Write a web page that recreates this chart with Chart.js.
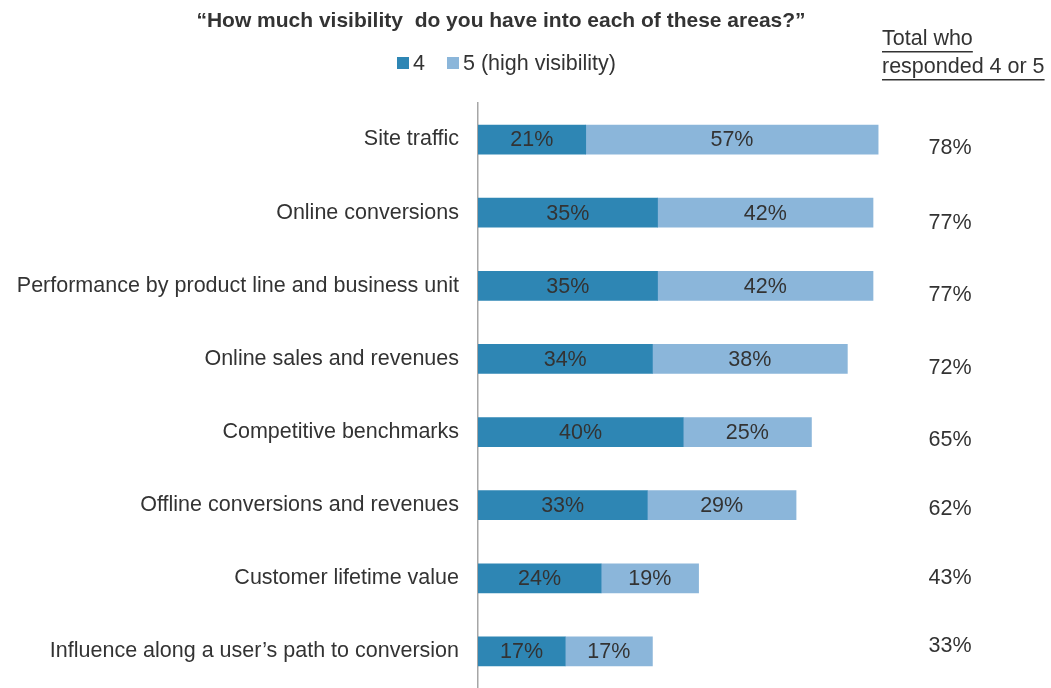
<!DOCTYPE html>
<html>
<head>
<meta charset="utf-8">
<script src="https://cdn.jsdelivr.net/npm/chart.js@4"></script>
<style>
  html, body { margin: 0; padding: 0; background: #fff; }
  #wrap { width: 1051px; height: 688px; position: relative; }
</style>
</head>
<body>
<div id="wrap"><canvas id="c" width="1051" height="688"></canvas></div>
<script>
// Survey areas and the share answering 4 or 5
const categories = [
  'Site traffic',
  'Online conversions',
  'Performance by product line and business unit',
  'Online sales and revenues',
  'Competitive benchmarks',
  'Offline conversions and revenues',
  'Customer lifetime value',
  'Influence along a user\u2019s path to conversion'
];
const score4 = [21, 35, 35, 34, 40, 33, 24, 17];
const score5 = [57, 42, 42, 38, 25, 29, 19, 17];
const totals = [78, 77, 77, 72, 65, 62, 43, 33];

const seriesNames = ['4', '5 (high visibility)'];
const titleText = '\u201cHow much visibility  do you have into each of these areas?\u201d';
const totalHeader = ['Total who', 'responded 4 or 5'];

const DARK = '#2e86b4';
const LIGHT = '#8bb6da';
const TEXT = '#333333';
const FONT = '"Liberation Sans", Arial, sans-serif';
const SIZE = 21.5;
// vertical nudge of each total relative to its bar row
const TOTAL_NUDGE = [9, 10, 9, 9, 8, 4, 0, -5];

// Percent labels inside each bar segment, totals column, title and legend
const annotate = {
  id: 'annotate',
  afterDatasetsDraw(chart) {
    const ctx = chart.ctx;
    ctx.save();
    ctx.fillStyle = TEXT;
    ctx.font = SIZE + 'px ' + FONT;
    ctx.textAlign = 'center';
    ctx.textBaseline = 'middle';
    chart.data.datasets.forEach((ds, di) => {
      chart.getDatasetMeta(di).data.forEach((bar, i) => {
        const x = (bar.base + bar.x) / 2;
        ctx.fillText(ds.data[i] + '%', x, bar.y + 1);
      });
    });

    // totals column
    const yScale = chart.scales.y;
    totals.forEach((t, i) => {
      const y = yScale.getPixelForValue(i) + TOTAL_NUDGE[i];
      ctx.fillText(t + '%', 950, y);
    });

    // header of totals column (underlined)
    ctx.textAlign = 'left';
    const hx = 882;
    const hy = [39, 67];
    totalHeader.forEach((line, k) => {
      ctx.fillText(line, hx, hy[k]);
      const w = ctx.measureText(line).width;
      ctx.fillRect(hx, hy[k] + 12, w, 1.5);
    });

    // title
    ctx.textAlign = 'center';
    ctx.font = 'bold 21px ' + FONT;
    ctx.fillText(titleText, 501, 21);

    // legend
    ctx.font = SIZE + 'px ' + FONT;
    ctx.textAlign = 'left';
    const colors = [DARK, LIGHT];
    const lx = [397, 447];
    seriesNames.forEach((name, k) => {
      ctx.fillStyle = colors[k];
      ctx.fillRect(lx[k], 57, 12, 12);
      ctx.fillStyle = TEXT;
      ctx.fillText(name, lx[k] + 16, 64);
    });
    ctx.restore();
  }
};

new Chart(document.getElementById('c'), {
  type: 'bar',
  data: {
    labels: categories,
    datasets: [
      { label: seriesNames[0], data: score4, backgroundColor: DARK, borderWidth: 0, barThickness: 29 },
      { label: seriesNames[1], data: score5, backgroundColor: LIGHT, borderWidth: 0, barThickness: 29 }
    ]
  },
  options: {
    indexAxis: 'y',
    responsive: false,
    animation: false,
    layout: { padding: { top: 103, right: 60, left: 0, bottom: 0 } },
    plugins: {
      legend: { display: false },
      title: { display: false },
      tooltip: { enabled: false }
    },
    scales: {
      x: {
        stacked: true,
        min: 0,
        max: 100,
        display: false
      },
      y: {
        stacked: true,
        grid: { display: false, drawTicks: false },
        border: { display: true, color: '#a6a6a6', width: 1.5 },
        ticks: {
          color: TEXT,
          padding: 19,
          font: { family: FONT, size: SIZE }
        },
        afterFit(scale) {
          scale.width = 478;
          scale.paddingTop = 0;
          scale.paddingBottom = 0;
        }
      }
    }
  },
  plugins: [annotate]
});
</script>
</body>
</html>
